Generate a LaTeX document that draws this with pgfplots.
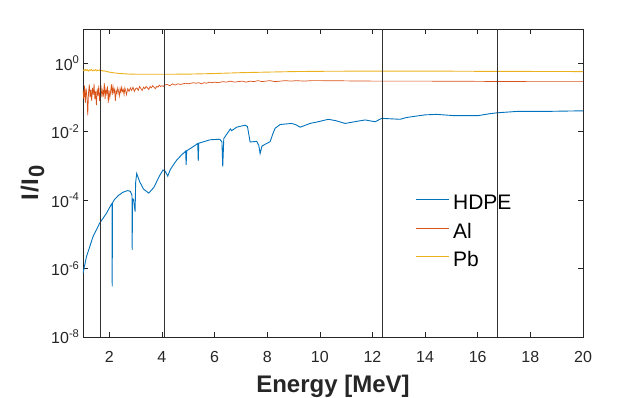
\documentclass[border=0pt]{standalone}
\usepackage{fontspec}
\setmainfont{Liberation Sans}
\usepackage{pgfplots}
\pgfplotsset{compat=1.18}

\definecolor{mblue}{rgb}{0,0.447,0.741}
\definecolor{morange}{rgb}{0.85,0.325,0.098}
\definecolor{myellow}{rgb}{0.929,0.694,0.125}
\definecolor{mframe}{rgb}{0.15,0.15,0.15}

\begin{document}
\begin{tikzpicture}
\useasboundingbox (-83pt,-61pt) rectangle (561pt,337pt);
\begin{axis}[
  scale only axis, width=500pt, height=308pt,
  xmin=1, xmax=20, ymin=1e-8, ymax=10,
  ymode=log,
  xtick={2,4,...,20},
  ytick={1e-8,1e-6,1e-4,1e-2,1e0},
  yticklabels={10\textsuperscript{-8},10\textsuperscript{-6},10\textsuperscript{-4},10\textsuperscript{-2},10\textsuperscript{0}},
  yminorticks=false,
  tick align=inside, major tick length=5pt,
  axis line style={mframe, line width=0.6pt},
  every tick/.style={mframe, line width=0.6pt},
  /pgf/number format/assume math mode=true,
  tick label style={font=\fontsize{16}{16}\selectfont, text=mframe},
  xticklabel style={yshift=-11pt},
  xlabel={\textbf{Energy [MeV]}},
  ylabel={\textbf{I\kern1pt/\kern1pt I\kern1pt\raisebox{-6pt}{\fontsize{22}{22}\selectfont 0}}},
  label style={font=\fontsize{24}{24}\selectfont, text=mframe},
  xlabel style={yshift=-5pt},
  legend style={draw=none, fill=none, at={(0.664,0.462)}, anchor=north west,
    font=\fontsize{21}{21}\selectfont, inner sep=0pt,
    nodes={inner sep=0pt, text height=15pt, text depth=4pt},
    row sep=9.5pt, column sep=4pt},
  legend cell align=left,
  legend image code/.code={\draw[#1] (0pt,5pt) -- (33pt,5pt);},
]
% HDPE
\addplot[mblue, line width=0.9pt] coordinates {
 (1.00,7.2e-7)(1.13,2.2e-6)(1.38,8.5e-6)(1.63,2.1e-5)(1.89,4.1e-5)(2.08,7.6e-5)
 (2.10,7.9e-5)(2.11,3.0e-7)(2.12,8.3e-5)(2.20,1.05e-4)(2.35,1.38e-4)(2.52,1.7e-4)
 (2.70,1.9e-4)(2.80,1.8e-4)(2.86,1.4e-4)(2.87,3.5e-6)(2.88,1.1e-4)(2.92,1.05e-4)
 (2.98,4.6e-5)(3.00,3.2e-4)(3.04,6.0e-4)(3.15,3.5e-4)(3.30,2.1e-4)(3.50,1.6e-4)
 (3.70,2.4e-4)(3.90,5.0e-4)(4.04,7.6e-4)(4.12,7.1e-4)(4.22,5.0e-4)(4.32,7.9e-4)
 (4.56,1.48e-3)(4.75,2.1e-3)(4.90,2.7e-3)(4.92,1.07e-3)(4.94,2.75e-3)(5.15,3.5e-3)
 (5.36,4.5e-3)(5.38,1.4e-3)(5.40,4.6e-3)(5.83,5.8e-3)(6.20,6.0e-3)(6.28,5.0e-3)
 (6.31,9.5e-4)(6.35,6.3e-3)(6.42,7.6e-3)(6.55,1.05e-2)(6.60,1.2e-2)(6.65,1.07e-2)
 (6.84,1.35e-2)(7.16,1.55e-2)(7.25,1.41e-2)(7.35,5.0e-3)(7.60,5.2e-3)(7.68,4.0e-3)
 (7.73,2.3e-3)(7.80,3.8e-3)(7.95,4.4e-3)(8.11,5.1e-3)(8.22,8.9e-3)(8.30,1.26e-2)
 (8.49,1.62e-2)(8.93,1.74e-2)(9.10,1.58e-2)(9.25,1.35e-2)(9.63,1.74e-2)(10.00,2.0e-2)
 (10.32,2.3e-2)(10.60,2.1e-2)(10.96,1.74e-2)(11.40,2.0e-2)(11.72,2.2e-2)(12.10,1.95e-2)
 (12.35,2.45e-2)(13.05,2.3e-2)(13.30,2.6e-2)(14.00,3.1e-2)(14.44,3.2e-2)(15.07,2.95e-2)
 (16.02,2.95e-2)(16.40,3.3e-2)(16.72,3.55e-2)(17.48,3.9e-2)(18.50,3.9e-2)(20.00,4.07e-2)
};
\addlegendentry{HDPE}
% Al
\addplot[morange, line width=0.7pt] coordinates {
 (1.00,0.16)(1.03,0.09)(1.06,0.22)(1.09,0.07)(1.12,0.18)(1.15,0.11)(1.18,0.03)(1.21,0.14)
 (1.24,0.24)(1.27,0.10)(1.30,0.17)(1.33,0.08)(1.36,0.19)(1.39,0.12)(1.42,0.25)(1.45,0.09)
 (1.48,0.15)(1.51,0.06)(1.54,0.18)(1.57,0.11)(1.60,0.22)(1.63,0.08)(1.66,0.14)(1.69,0.19)
 (1.72,0.10)(1.75,0.16)(1.78,0.12)(1.81,0.26)(1.84,0.09)(1.87,0.17)(1.90,0.13)(1.93,0.21)
 (1.96,0.07)(1.99,0.16)(2.02,0.10)(2.05,0.15)(2.08,0.24)(2.11,0.12)(2.14,0.21)(2.17,0.14)
 (2.20,0.17)(2.23,0.08)(2.26,0.16)(2.29,0.13)(2.32,0.19)(2.35,0.15)(2.38,0.11)(2.41,0.18)
 (2.44,0.14)(2.47,0.20)(2.50,0.15)(2.53,0.17)(2.56,0.12)(2.59,0.19)(2.62,0.16)(2.65,0.12)
 (2.70,0.18)(2.75,0.15)(2.80,0.19)(2.85,0.16)(2.90,0.20)(2.95,0.15)(3.00,0.18)(3.05,0.19)
 (3.10,0.16)(3.15,0.21)(3.20,0.18)(3.25,0.16)(3.30,0.20)(3.35,0.18)(3.40,0.21)(3.45,0.19)
 (3.50,0.17)(3.55,0.21)(3.60,0.19)(3.65,0.22)(3.70,0.20)(3.75,0.18)(3.80,0.21)(3.85,0.20)
 (3.90,0.23)(3.95,0.21)(4.00,0.22)(4.05,0.21)(4.10,0.23)(4.20,0.24)(4.30,0.22)(4.40,0.25)
 (4.50,0.23)(4.60,0.25)(4.70,0.24)(4.80,0.25)(4.90,0.26)(5.00,0.25)(5.10,0.26)(5.20,0.27)
 (5.30,0.26)(5.40,0.27)(5.50,0.25)(5.60,0.27)(5.70,0.26)(5.80,0.28)(5.90,0.27)(6.00,0.28)
 (6.15,0.27)(6.30,0.29)(6.45,0.28)(6.60,0.30)(6.75,0.28)(6.90,0.29)(7.05,0.30)(7.20,0.28)
 (7.35,0.30)(7.50,0.29)(7.65,0.31)(7.80,0.29)(7.95,0.30)(8.10,0.31)(8.30,0.29)(8.50,0.30)
 (8.70,0.31)(8.90,0.30)(9.10,0.31)(9.40,0.30)(9.70,0.31)(10.0,0.31)(11.0,0.305)(12.0,0.30)
 (14.0,0.30)(16.0,0.295)(18.0,0.29)(20.0,0.29)
};
\addlegendentry{Al}
% Pb
\addplot[myellow, line width=0.9pt] coordinates {
 (1.00,0.64)(1.04,0.60)(1.08,0.66)(1.12,0.61)(1.16,0.65)(1.20,0.59)(1.24,0.64)(1.28,0.62)
 (1.32,0.66)(1.36,0.60)(1.40,0.63)(1.44,0.61)(1.48,0.65)(1.52,0.60)(1.56,0.63)(1.60,0.61)
 (1.64,0.64)(1.68,0.60)(1.72,0.62)(1.76,0.59)(1.80,0.60)(1.90,0.57)(2.00,0.55)(2.20,0.52)
 (2.40,0.50)(2.60,0.49)(2.80,0.48)(3.20,0.475)(4.00,0.475)(5.00,0.48)(6.00,0.50)(7.00,0.53)
 (8.00,0.55)(9.00,0.57)(10.0,0.58)(12.0,0.59)(14.0,0.59)(16.0,0.58)(18.0,0.575)(20.0,0.57)
};
\addlegendentry{Pb}
% vertical markers
\addplot[black!80, line width=0.8pt, forget plot] coordinates {(1.65,1e-8)(1.65,10)};
\addplot[black!80, line width=0.8pt, forget plot] coordinates {(4.09,1e-8)(4.09,10)};
\addplot[black!80, line width=0.8pt, forget plot] coordinates {(12.38,1e-8)(12.38,10)};
\addplot[black!80, line width=0.8pt, forget plot] coordinates {(16.73,1e-8)(16.73,10)};
\end{axis}
\end{tikzpicture}
\end{document}
